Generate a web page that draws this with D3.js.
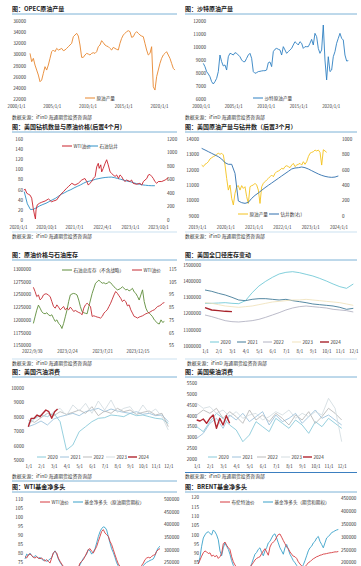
<!DOCTYPE html>
<html>
<head>
<meta charset="utf-8">
<script src="https://cdn.jsdelivr.net/npm/d3@7/dist/d3.min.js"></script>
<style>
  body { margin: 0; background: #fff; }
  svg { display: block; }
</style>
</head>
<body>
<svg id="chart" width="361" height="566"></svg>
<script>
// ---------- data ----------

// OPEC crude production, sampled roughly every quarter from 2002
const yearTicks = [2000, 2005, 2010, 2015, 2020];
const opecTicks = [22000, 24000, 26000, 28000, 30000, 32000, 34000, 36000];
const opecProd = [30180,28700,29290,28100,27210,26320,25130,25430,26620,27810,
  27210,28100,29290,30480,30780,30480,31070,30780,30900,31070,
  30660,30780,31070,31370,31670,31970,33150,33450,33750,33270,
  31670,29470,29470,29890,30180,30060,29890,30180,30300,30180,
  30480,31370,31670,32440,32080,31670,31490,31370,31070,30780,
  31250,31070,30900,30780,31970,32860,33450,33750,34050,34220,
  34050,33040,33150,33750,34050,33750,33450,33270,33150,31970,
  30780,29890,30180,31370,24240,23650,26020,27210,28400,29290,
  29890,30180,30480,29890,29290,28400,27510,27210];

// Saudi crude production
const saudiTicks = [6000, 7000, 8000, 9000, 10000, 11000, 12000];
const saudiProd = [8730,8480,8100,7920,7710,7330,7150,7330,7580,8100,
  9370,8860,8530,8610,8220,9240,9500,9450,9370,9550,
  9500,9370,9240,8990,8860,8860,9120,9370,9500,9120,
  8100,7970,8020,8100,8120,8150,8170,8170,8220,8780,
  8840,8480,9630,9810,9880,9810,9760,9370,10010,9760,
  9500,9630,9760,9880,10140,10390,10270,10140,10390,10270,
  9880,10010,10010,10010,10270,10570,10140,11030,10780,9880,
  9500,9760,11670,8990,7460,9240,8100,8220,9240,9630,
  10270,10650,11030,10650,10520,9370,8910,8940];

// US rigs vs WTI (months since 2020/1)
const rigLabels = ["2020/1/1", "2020/10/1", "2021/7/1", "2022/4/1", "2023/1/1", "2023/10/1"];
const rigLabelMonths = [0, 9, 18, 27, 36, 45];
const wtiMonth = [1.9,2.3,2.8,3.3,3.9,4.4,4.9,5.3,5.6,5.8,6.2,6.9,7.6,8.7,9.8,10.8,11.4,12.4,13.5,14.6,
  15.6,16.2,17.3,18.3,19.4,20.5,21.5,22.1,22.6,23.1,23.7,24.2,24.8,25.3,25.8,26.1,26.6,26.9,27.4,28,
  28.5,29,29.6,30.1,30.6,31.2,31.7,32.3,32.8,33.3,33.9,34.4,34.9,36,36.5,37,38.1,39.2,39.8,40.3,
  41.4,41.9,42.4,43,43.5,44,44.6,45.1,46.2,47.3,48.3];
const wtiPrice = [59,61,53,51,49,43,23,10,2,20,30,33,35,37.5,41.5,36,37.5,39.5,49,56,
  62.6,66,72.5,69,72.5,79,82,76,69,72.5,76,82,86,105,112,102,109,95,102,112,
  119,109,95,92,89,86,89,82,89,86,79,76,79,76,79,72.5,70.5,72.5,69,76,
  82,89,90,86,82,76,72.5,76,76,79,83.6];
const rigCount = [420,240,155,160,183,210,230,248,272,298,320,352,383,405,430,450,475,497,518,543,
  566,576,590,604,614,623,630,634,636,628,615,604,590,577,568,554,540,530,520,515,510,508,508];

// US crude production vs rigs (rigs shifted 3 months)
const usProd = [12300,12200,12350,12410,12520,12700,12780,12850,12910,13000,
  13070,13000,13070,12960,12300,11430,10670,11000,10130,9700,
  10460,10890,10960,10670,10960,10780,10890,10240,9800,10890,
  10960,11000,11110,11000,10670,9800,10890,11110,11220,11330,
  11430,11540,11650,11540,11760,11870,11910,11980,12090,12040,
  12200,12260,12200,12130,12300,12410,12200,12300,12350,12410,
  12300,12520,12350,12520,12850,13070,13130,13170,13280,13220,
  13280,13130,12300,13300,13220,13130];
const usRigs = [878,857,835,813,791,770,739,691,670,670,552,192,170,161,174,226,265,296,331,365,
  396,426,457,487,518,548,578,609,622,626,635,626,609,587,565,544,526,513,504,500,504,518];

// total stocks ex SPR vs WTI, weekly from 2022/10/7
const stockDateLabels = ["2022/9/30", "2023/2/24", "2023/7/21", "2023/12/15"];
const totalStocks = [1193000,1206000,1219000,1229000,1223000,1216000,1213000,1212000,1214000,1210000,
  1208000,1210000,1203000,1197000,1200000,1193000,1190000,1183000,1193000,1206000,
  1219000,1236000,1249000,1251000,1252000,1251000,1249000,1239000,1226000,1216000,
  1214000,1213000,1212000,1226000,1239000,1252000,1262000,1272000,1275000,1278000,
  1275000,1272000,1273000,1271000,1272000,1275000,1273000,1269000,1265000,1262000,
  1259000,1260000,1262000,1265000,1262000,1259000,1260000,1257000,1259000,1262000,
  1255000,1252000,1246000,1239000,1249000,1259000,1236000,1223000,1216000,1213000,
  1210000,1206000,1200000,1197000,1193000,1192000,1200000,1195000,1197000];
const wtiWeekly = [100.6,97.3,93.3,94.6,90.7,92.0,94.6,95.4,95.4,94.4,
  93.3,89.4,85.5,84.2,86.8,85.0,82.9,84.2,85.5,82.9,
  84.2,82.9,85.0,83.4,81.6,82.4,81.6,80.8,80.3,79.0,
  84.2,86.8,88.1,86.8,85.5,77.7,78.2,77.7,77.2,76.9,
  76.4,77.7,80.3,81.6,82.9,85.5,88.1,91.3,94.6,97.3,
  95.9,93.9,92.0,89.4,90.7,89.4,86.0,86.8,82.9,80.3,
  77.7,77.2,76.4,77.2,77.7,78.2,79.0,79.8,80.3,80.8,
  81.6,82.4,82.9,84.2,85.5,86.0,86.8,88.1,88.6];

// seasonal panels: half-month steps from 1/1 (2024 is weekly)
const seasonYears = ["2020", "2021", "2022", "2023", "2024"];
const monthLabels = ["1/1","2/1","3/1","4/1","5/1","6/1","7/1","8/1","9/1","10/1","11/1","12/1"];
const stocks2020 = [1262600,1262600,1264600,1266700,1262600,1260500,1279000,1328200,1369200,1398000,1422600,1443100,
  1453300,1457400,1451300,1441000,1430800,1416400,1400000,1381600,1365100,1354900,1381600];
const stocks2021 = [1344600,1336400,1324100,1313900,1299500,1283100,1279000,1287200,1291300,1291300,1287200,1283100,
  1287200,1279000,1272900,1266700,1258500,1254400,1250300,1246200,1238000,1225700,1231800];
const stocks2022 = [1190800,1180600,1168200,1155900,1149800,1147700,1151800,1155900,1164100,1176500,1190800,1205200,
  1221600,1233900,1242100,1246200,1242100,1238000,1233900,1225700,1221600,1217500,1209300];
const stocks2023 = [1266700,1262600,1254400,1246200,1242100,1238000,1242100,1246200,1254400,1262600,1270800,1274900,
  1279000,1283100,1283100,1287200,1283100,1279000,1274900,1270800,1266700,1258500,1250300];
const stocks2024 = [1235900,1221600,1217500,1213400,1211300];

const gas2020 = [7546,7894,8125,8009,8241,7662,5694,6042,6968,7315,7662,7894,7940,8125,8079,8009,8241,8079,8125,8009,7894,7847,7546];
const gas2021 = [7315,7477,7708,7431,7847,8009,8125,8241,8079,8357,8472,8588,8357,8542,8403,8310,8241,8357,8171,8241,8079,8125,7662];
const gas2022 = [7778,7616,7940,8241,8079,8357,8171,8310,8472,8241,8704,8079,8403,8241,8588,8357,8472,8171,8310,8403,8125,8241,7315];
const gas2023 = [7431,7847,8125,8009,8357,8588,8079,8820,8403,8935,8241,9097,8472,9167,8310,8588,8704,8125,8820,8241,8542,8009,7083];
const gas2024 = [7315,7894,7894,8125,8009,8241,8472,8357,7894,8357,8542];

const dist2020 = [3489,3259,3720,4103,3873,3566,3336,2798,3106,3720,3489,3259,3873,3643,3413,3796,3566,3182,3720,3489,3873,3643,3413];
const dist2021 = [2952,3182,3643,3873,3413,4027,3796,4103,3720,3950,4180,3566,4027,3720,3873,4103,3643,3950,4257,3873,4027,3796,3566];
const dist2022 = [4027,4257,4103,4334,3873,4180,3950,3643,4257,3796,4027,3720,4103,3873,3566,4027,3796,4180,3643,3950,4334,4103,3796];
const dist2023 = [4564,4334,4410,4103,4257,3950,4180,3873,4027,4103,3796,3950,4180,4027,4257,3873,4103,3950,4180,4027,4794,4334,2798];
const dist2024 = [3796,3750,3842,3643,3873,4027,3413,3873,3566,3996,3643];

// fund net long vs price (weekly)
const wtiNet = [78.1,77.2,79.0,79.4,78.7,77.6,77.2,77.9,77.2,76.8,
  77.2,76.3,75.4,76.3,75.4,74.4,77.2,80.0,80.9,80.0,
  77.2,75.4,73.9,72.6,71.3,69.8,68.9,69.4,68.3,68.0,
  68.9,70.2,72.0,74.4,75.4,76.3,78.1,80.0,81.8,82.4,
  80.9,80.0,81.8,83.6,86.4,89.2,91.9,92.9,91.0,90.1,
  89.2,86.4,84.6,81.8,79.0,76.3,73.9,72.6,71.3,69.8,
  68.9,68.0,68.3,67.6,67.1,68.0,68.9,69.8,70.7,72.0,
  73.1,74.4,76.3,77.2,77.6,77.2,78.1,78.7,79.0,80.9,
  81.8,82.4];
const wtiFund = [264000,283000,277000,287000,277000,270000,277000,274000,266000,270000,
  264000,258000,261000,254000,258000,264000,270000,287000,296000,283000,
  264000,251000,241000,232000,224000,213000,207000,211000,203000,201000,
  207000,216000,229000,241000,254000,266000,274000,283000,302000,296000,
  283000,292000,304000,327000,352000,371000,384000,390000,388000,378000,
  352000,327000,304000,289000,270000,249000,236000,226000,216000,207000,
  201000,198000,201000,195000,201000,203000,207000,213000,220000,226000,
  232000,239000,245000,251000,254000,258000,261000,264000,277000,296000,
  308000,314000];
const brentPrice = [84.2,86.3,88.4,90.2,91.2,90.7,89.8,90.2,88.4,88.9,
  88.1,88.8,87.2,88.1,89.8,95.1,96.0,94.2,93.0,91.9,
  88.1,85.4,83.7,82.4,81.0,80.2,80.7,79.6,79.3,80.2,
  81.0,82.4,83.7,84.9,86.3,87.2,87.7,88.1,89.8,91.2,
  92.4,90.7,88.9,93.3,95.1,96.0,96.8,98.6,100.0,100.3,
  98.6,96.8,95.1,93.3,92.4,90.7,89.5,88.4,88.1,87.2,
  85.4,84.2,83.2,82.4,82.8,83.7,84.9,85.4,86.3,87.0,
  87.5,88.1,88.4,88.9,89.1,89.5,89.6,89.8,90.0,90.2,
  90.3,90.5,90.7,90.7,90.9];
const brentFund = [195000,220000,263000,295000,307000,316000,319000,313000,307000,326000,
  319000,307000,288000,245000,226000,257000,276000,263000,251000,232000,
  207000,189000,176000,166000,161000,158000,161000,156000,154000,159000,
  166000,179000,195000,214000,232000,239000,251000,257000,239000,226000,
  245000,257000,276000,282000,295000,307000,311000,295000,276000,257000,
  245000,232000,257000,270000,251000,232000,220000,207000,199000,189000,
  179000,174000,179000,191000,207000,226000,245000,257000,263000,276000,
  282000,295000,301000,282000,270000,257000,276000,295000,301000,307000,
  316000,319000,323000,326000,328000];

// ---------- drawing ----------
const svg = d3.select("#chart");
const FONT = '"Noto Sans CJK SC", "Noto Sans", sans-serif';
svg.attr("font-family", FONT);
svg.append("rect").attr("width", 361).attr("height", 566).attr("fill", "#fff");

function header(x, y, x2, title) {
  svg.append("text").attr("x", x).attr("y", y)
    .attr("font-size", 6).attr("font-weight", "bold").attr("fill", "#1d1d1d")
    .text(title);
  svg.append("line").attr("x1", x).attr("x2", x2).attr("y1", y + 3).attr("y2", y + 3)
    .attr("stroke", "#5b9fcb").attr("stroke-width", 0.8);
}

function note(x, y) {
  svg.append("text").attr("x", x).attr("y", y)
    .attr("font-size", 4.8).attr("fill", "#333")
    .text("数据来源：iFinD  海通期货投资咨询部");
}

function yAxis(scale, ticks, x, side) {
  const axis = side === "right" ? d3.axisRight(scale) : d3.axisLeft(scale);
  const g = svg.append("g").attr("transform", `translate(${x},0)`)
    .call(axis.tickValues(ticks).tickSize(0).tickPadding(0).tickFormat(d3.format("d")));
  g.select(".domain").remove();
  g.attr("font-size", 4.6).attr("font-family", FONT);
  g.selectAll("text").attr("fill", "#333");
}

function xAxis(scale, ticks, y, fmt) {
  const g = svg.append("g").attr("transform", `translate(0,${y})`)
    .call(d3.axisBottom(scale).tickValues(ticks).tickSize(0).tickPadding(0).tickFormat(fmt));
  g.select(".domain").remove();
  g.attr("font-size", 4.4).attr("font-family", FONT);
  g.selectAll("text").attr("fill", "#333");
}

function plot(xs, vals, x, y, color, w) {
  svg.append("path")
    .datum(vals.map((v, i) => [xs[i], v]))
    .attr("fill", "none")
    .attr("stroke", color)
    .attr("stroke-width", w || 0.9)
    .attr("stroke-linejoin", "round")
    .attr("d", d3.line().x(d => x(d[0])).y(d => y(d[1])));
}

function legend(items, y) {
  items.forEach(it => {
    const len = it.len || 10;
    svg.append("line").attr("x1", it.x).attr("x2", it.x + len).attr("y1", y).attr("y2", y)
      .attr("stroke", it.color).attr("stroke-width", it.w || 1);
    svg.append("text").attr("x", it.x + len + 1.5).attr("y", y).attr("dy", "0.35em")
      .attr("font-size", 4.6).attr("fill", "#333").text(it.label);
  });
}

function baseLine(x1, x2, y, color, w) {
  svg.append("line").attr("x1", x1).attr("x2", x2).attr("y1", y).attr("y2", y)
    .attr("stroke", color).attr("stroke-width", w);
}

const steps = (n, start, step) => d3.range(n).map(i => start + i * step);

// --- OPEC production
header(12, 11, 177, "图：OPEC原油产量");
const xA = d3.scaleLinear().domain([2000, 2020]).range([16, 159]);
const yA = d3.scaleLinear().domain([22000, 36000]).range([99.3, 20.7]);
yAxis(yA, opecTicks, 26, "left");
xAxis(xA, yearTicks, 104.5, d => d + "/1/1");
plot(steps(opecProd.length, 2001.96, 0.233), opecProd, xA, yA, "#e8872f");
legend([{ x: 85, color: "#e8872f", label: "原油产量" }], 98);
note(12, 119);

// --- Saudi production
header(185, 11, 357, "图：沙特原油产量");
const xB = d3.scaleLinear().domain([2000, 2020]).range([200.7, 330.7]);
const yB = d3.scaleLinear().domain([6000, 12000]).range([99, 20.7]);
yAxis(yB, saudiTicks, 206, "left");
xAxis(xB, yearTicks, 104.5, d => d + "/1/1");
plot(steps(saudiProd.length, 2000.4, 0.2564), saudiProd, xB, yB, "#2f80c2");
legend([{ x: 253, color: "#2f80c2", label: "沙特原油产量" }], 98);
note(185, 119);

// --- US rigs vs WTI
header(12, 129, 177, "图：美国钻机数量与原油价格(后置4个月)");
const xC = d3.scaleLinear().domain([0, 45]).range([18, 158]);
const yCL = d3.scaleLinear().domain([0, 160]).range([220, 139]);
const yCR = d3.scaleLinear().domain([0, 1200]).range([220, 139]);
yAxis(yCL, d3.range(0, 161, 20), 23, "left");
yAxis(yCR, d3.range(0, 1201, 200), 167, "right");
xAxis(xC, rigLabelMonths, 226, (d, i) => rigLabels[i]);
plot(d3.range(2, 2 + rigCount.length), rigCount, xC, yCR, "#2e90c6");
plot(wtiMonth, wtiPrice, xC, yCL, "#c9202b");
legend([{ x: 62, color: "#c9202b", label: "WTI油价" }, { x: 88, color: "#2e90c6", label: "石油钻井" }], 146);
baseLine(12, 177, 232, "#a9cde6", 0.6);
note(12, 238);

// --- US production vs rigs
header(185, 129, 357, "图：美国原油产量与钻井数（后置3个月）");
const xD = d3.scaleLinear().domain([2019, 2024]).range([197, 338.5]);
const yDL = d3.scaleLinear().domain([9000, 14000]).range([215.7, 139]);
const yDR = d3.scaleLinear().domain([0, 1000]).range([215.7, 139]);
yAxis(yDL, d3.range(9000, 14001, 1000), 199, "left");
yAxis(yDR, d3.range(0, 1001, 200), 342, "right");
xAxis(xD, d3.range(2019, 2025), 226, d => d + "/1/1");
plot(steps(usProd.length, 2019.165, 0.0589), usProd, xD, yDL, "#f4c21c");
plot(steps(usRigs.length, 2019.165, 0.1178), usRigs, xD, yDR, "#2f6fae");
legend([{ x: 238, color: "#f4c21c", label: "原油产量" }, { x: 269, color: "#2f6fae", label: "钻井数(右)" }], 214);
baseLine(185, 357, 232, "#a9cde6", 0.6);
note(185, 238);

// --- total stocks vs WTI
header(12, 257, 177, "图：原油价格与石油库存");
const stockStart = new Date(2022, 9, 7);
const stockDates = totalStocks.map((_, i) => d3.timeWeek.offset(stockStart, i));
const xE = d3.scaleTime().domain([new Date(2022, 8, 30), new Date(2023, 11, 15)]).range([31.7, 137.5]);
const yEL = d3.scaleLinear().domain([1150000, 1300000]).range([345.3, 269]);
const yER = d3.scaleLinear().domain([55, 115]).range([345.3, 269]);
yAxis(yEL, d3.range(1150000, 1300001, 25000), 31, "left");
yAxis(yER, d3.range(55, 116, 10), 169, "right");
const labelDates = [new Date(2022, 8, 30), new Date(2023, 1, 24), new Date(2023, 6, 21), new Date(2023, 11, 15)];
xAxis(xE, labelDates, 350, (d, i) => stockDateLabels[i]);
plot(stockDates, totalStocks, xE, yEL, "#5e8c3a");
plot(stockDates, wtiWeekly, xE, yER, "#c42b33");
legend([{ x: 62, color: "#5e8c3a", label: "石油总库存（不含战略）" }, { x: 132, color: "#c42b33", label: "WTI油价" }], 270);
baseLine(12, 177, 359, "#a9cde6", 0.6);
note(12, 365);

// --- seasonal panels
function seasonal(opts) {
  const x = d3.scaleLinear().domain([0, 11]).range(opts.xr);
  const y = d3.scaleLinear().domain(opts.yd).range(opts.yr);
  yAxis(y, opts.ticks, opts.axisX, "left");
  xAxis(x, d3.range(12), opts.labelY, (d, i) => monthLabels[i]);
  opts.series.forEach((s, k) => {
    const step = k === 4 ? opts.lastStep : 0.5;
    plot(steps(s.length, 0, step), s, x, y, opts.colors[k], k === 4 ? 1.4 : 0.8);
  });
  legend(seasonYears.map((yr, k) => ({ x: opts.legendX[k], color: opts.colors[k], label: yr, len: 9, w: k === 4 ? 1.4 : 0.9 })), opts.legendY);
}

header(185, 257, 357, "图：美国全口径库存变动");
seasonal({
  xr: [205, 353.3], yd: [1000000, 1400000], yr: [346, 281],
  ticks: d3.range(1000000, 1500001, 100000), axisX: 201, labelY: 350,
  series: [stocks2020, stocks2021, stocks2022, stocks2023, stocks2024], lastStep: 0.5,
  colors: ["#62c3d2", "#2b6b8c", "#a9a9bb", "#efe0b6", "#a8232b"],
  legendX: [210, 237, 263, 292, 320], legendY: 342
});
baseLine(185, 357, 359, "#a9cde6", 0.6);
note(187, 365);

header(12, 374, 177, "图：美国汽油消费");
seasonal({
  xr: [28.3, 168.3], yd: [5000, 10000], yr: [460, 388],
  ticks: d3.range(5000, 10001, 1000), axisX: 24, labelY: 465,
  series: [gas2020, gas2021, gas2022, gas2023, gas2024], lastStep: 0.23,
  colors: ["#7cc4d6", "#93bbd8", "#b3b3b3", "#cfd9de", "#b22630"],
  legendX: [37, 60, 83, 106, 128], legendY: 457
});
baseLine(12, 177, 481, "#5b9fcb", 0.8);
note(12, 478);

header(185, 374, 357, "图：美国柴油消费");
seasonal({
  xr: [196.7, 341.7], yd: [2000, 5500], yr: [459, 383],
  ticks: d3.range(2000, 5501, 500), axisX: 197, labelY: 465,
  series: [dist2020, dist2021, dist2022, dist2023, dist2024], lastStep: 0.25,
  colors: ["#7cc4d6", "#93bbd8", "#b3b3b3", "#cfd9de", "#b22630"],
  legendX: [208, 232, 257, 281, 303], legendY: 457
});
baseLine(185, 357, 472.5, "#3b7fc0", 1);
note(185, 478);

// --- WTI fund net long
header(12, 489, 177, "图：WTI基金净多头");
const xI = d3.scaleLinear().domain([0, wtiNet.length - 1]).range([25, 160]);
const yIL = d3.scaleLinear().domain([75, 110]).range([562, 498.7]);
const yIR = d3.scaleLinear().domain([250000, 500000]).range([562.5, 499]);
yAxis(yIL, d3.range(75, 111, 5), 23, "left");
yAxis(yIR, d3.range(250000, 500001, 50000), 164, "right");
plot(d3.range(wtiFund.length), wtiFund, xI, yIR, "#3aa1c9");
plot(d3.range(wtiNet.length), wtiNet, xI, yIL, "#d63b40");
legend([{ x: 40, color: "#d63b40", label: "WTI油价" }, { x: 73, color: "#3aa1c9", label: "基金净多头（原油期货期权）" }], 502);

// --- Brent fund net long
header(185, 489, 357, "图：BRENT基金净多头");
const xJ = d3.scaleLinear().domain([0, brentPrice.length - 1]).range([198.3, 338.3]);
const yJL = d3.scaleLinear().domain([85, 120]).range([562.5, 497.3]);
const yJR = d3.scaleLinear().domain([200000, 450000]).range([562.5, 498]);
yAxis(yJL, d3.range(85, 121, 5), 199, "left");
yAxis(yJR, d3.range(200000, 450001, 50000), 341, "right");
plot(d3.range(brentFund.length), brentFund, xJ, yJR, "#3aa1c9");
plot(d3.range(brentPrice.length), brentPrice, xJ, yJL, "#d63b40");
legend([{ x: 220, color: "#d63b40", label: "布伦特油价" }, { x: 263, color: "#3aa1c9", label: "基金净多头（期货和期权）" }], 502);
</script>
</body>
</html>
